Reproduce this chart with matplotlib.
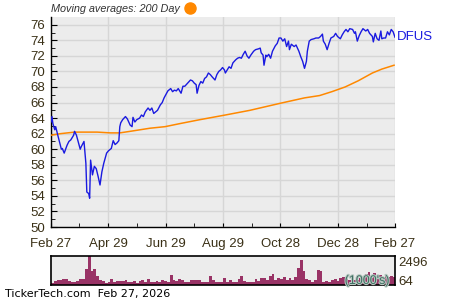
import numpy as np
import pandas as pd
import matplotlib
matplotlib.use("Agg")
from matplotlib import pyplot as plt
from matplotlib import patheffects
from matplotlib.lines import Line2D

# ---- data ----
start = pd.Timestamp("2025-02-27")

price_days = [0, 1, 2, 4, 5, 7, 11, 12, 14, 17, 19, 21, 24, 25, 27, 31, 32, 35, 37, 38,
              40, 41, 42, 44, 46, 48, 50, 52, 54, 56, 59, 61, 64, 66, 68, 70, 72, 73, 74, 76,
              79, 81, 84, 86, 87, 89, 91, 94, 96, 98, 100, 103, 105, 107, 109, 111, 113, 116, 118, 120,
              124, 127, 129, 131, 133, 135, 138, 140, 142, 145, 148, 150, 152, 154, 155, 157, 159, 161, 163, 165,
              167, 169, 171, 174, 176, 178, 180, 182, 184, 185, 187, 189, 191, 193, 196, 198, 200, 202, 204, 206,
              208, 210, 212, 215, 217, 220, 222, 223, 225, 226, 228, 229, 231, 233, 235, 238, 240, 242, 244, 246,
              248, 250, 252, 253, 255, 258, 260, 263, 265, 267, 269, 271, 272, 274, 276, 279, 281, 284, 286, 288,
              289, 291, 293, 295, 297, 300, 302, 304, 307, 309, 311, 313, 315, 317, 320, 322, 323, 325, 327, 329,
              331, 334, 336, 338, 341, 342, 344, 346, 348, 350, 351, 353, 355, 357, 359, 361, 363, 365]
price = [63.5, 64.2, 63.3, 62.5, 62.9, 61.9, 60.0, 60.1, 59.5, 60.5, 61.0, 61.2, 61.8, 62.3, 61.8, 60.0, 60.3, 61.0, 58.2, 54.5,
         54.3, 53.7, 58.6, 56.7, 57.8, 57.5, 56.5, 55.4, 57.1, 58.2, 59.5, 59.8, 60.1, 61.1, 60.6, 60.8, 61.1, 62.9, 63.4, 63.8,
         64.2, 63.9, 63.1, 62.9, 64.1, 63.5, 63.8, 64.0, 64.4, 64.2, 64.8, 65.3, 65.0, 65.3, 64.6, 64.8, 65.0, 65.7, 66.0, 66.6,
         67.5, 67.8, 67.4, 67.6, 67.5, 67.8, 67.2, 68.1, 68.1, 68.5, 68.9, 68.8, 68.5, 68.3, 67.2, 68.2, 68.7, 68.5, 69.1, 69.3,
         69.8, 69.6, 69.3, 68.9, 69.6, 70.0, 70.2, 70.5, 70.2, 69.8, 70.2, 70.6, 70.4, 71.1, 71.5, 71.7, 71.8, 71.7, 72.2, 72.6,
         72.0, 71.7, 72.1, 72.6, 72.8, 72.9, 73.0, 72.4, 72.1, 70.8, 72.1, 71.9, 72.2, 71.7, 72.6, 73.3, 73.6, 74.3, 74.3, 73.9,
         74.2, 73.2, 73.9, 72.8, 73.5, 73.2, 73.4, 72.6, 71.9, 71.3, 70.4, 71.3, 72.6, 73.9, 74.1, 74.2, 74.3, 74.3, 74.5, 74.8,
         73.9, 73.5, 72.8, 73.6, 74.3, 74.5, 74.9, 74.5, 74.2, 74.7, 75.1, 75.4, 75.1, 75.5, 75.4, 74.9, 75.1, 73.9, 74.6, 75.1,
         75.5, 75.2, 75.4, 74.9, 74.5, 73.8, 74.9, 74.2, 74.0, 75.2, 74.2, 74.3, 74.3, 75.1, 74.7, 75.4, 75.1, 74.4]

ma_days = [0, 10, 25, 49, 63, 73, 84, 105, 121, 137, 158, 185, 211, 243, 269, 285, 298, 312, 326, 341, 351, 364]
ma200 = [61.8, 62.0, 62.2, 62.2, 62.1, 62.1, 62.3, 62.7, 62.9, 63.3, 63.8, 64.4, 65.0, 65.9, 66.6, 66.9, 67.4, 68.0, 68.8, 69.8, 70.3, 70.8]

# volume in thousands, one bar per 3 calendar days
vol_step = 3
volume = [250, 450, 600, 600, 650, 650, 450, 380, 380, 400, 650, 650, 1800, 3300, 1600, 1800, 1000, 550, 450, 200,
          350, 650, 300, 500, 400, 420, 550, 350, 380, 450, 250, 400, 550, 350, 700, 300, 320, 450, 350, 600,
          400, 300, 1100, 600, 460, 690, 540, 300, 300, 540, 540, 600, 600, 300, 300, 300, 1000, 540, 380, 380,
          380, 770, 300, 540, 380, 380, 690, 1000, 460, 380, 380, 300, 690, 460, 770, 840, 600, 1075, 1230, 540,
          770, 690, 920, 600, 840, 540, 920, 1900, 2850, 1540, 690, 540, 380, 600, 1690, 1600, 300, 460, 380, 540,
          690, 460, 770, 920, 690, 540, 540, 610, 540, 840, 690, 1230, 1460, 760, 1380, 920, 1150, 690, 1300, 920,
          1075, 900]

tick_dates = ["2025-02-27", "2025-04-29", "2025-06-29", "2025-08-29", "2025-10-28", "2025-12-28", "2026-02-27"]
tick_labels = ["Feb 27", "Apr 29", "Jun 29", "Aug 29", "Oct 28", "Dec 28", "Feb 27"]
minor_dates = ["2025-03-29", "2025-05-29", "2025-07-29", "2025-09-28", "2025-11-28", "2026-01-28"]
ticker = "DFUS"

# ---- style ----
plt.rcParams['font.family'] = ['Liberation Sans', 'DejaVu Sans']
txt_color = "#3a3016"
bg = "#ececec"
grid_c = "#d6d6d6"

price_x = start + pd.to_timedelta(price_days, unit="D")
ma_x = start + pd.to_timedelta(ma_days, unit="D")
vol_x = start + pd.to_timedelta(np.arange(len(volume)) * vol_step, unit="D")
x0, x1 = pd.Timestamp(tick_dates[0]), pd.Timestamp(tick_dates[-1])

fig = plt.figure(figsize=(4.5, 3.0), dpi=100)
ax = fig.add_axes([51 / 450, 1 - 227 / 300, 344 / 450, 210 / 300])
axv = fig.add_axes([51 / 450, 1 - 285 / 300, 344 / 450, 29 / 300])

# main price panel
ax.set_facecolor(bg)
ax.plot(ma_x, ma200, color="#ff8800", lw=1.1, zorder=3)
ax.plot(price_x, price, color="#1a1ae0", lw=1.0, zorder=4)
ax.set_xlim(x0, x1)
ax.set_ylim(50, 77)
ax.set_yticks(np.arange(50, 77, 2))
ax.set_yticks(np.arange(51, 77, 2), minor=True)
ax.set_xticks(pd.to_datetime(tick_dates))
ax.set_xticklabels(tick_labels)
ax.set_xticks(pd.to_datetime(minor_dates), minor=True)
ax.grid(True, which="major", color=grid_c, lw=1.0, zorder=0)
ax.tick_params(which="both", direction="in", colors="black", labelcolor=txt_color, labelsize=9.5)
ax.tick_params(axis="y", which="major", length=4, pad=4)
ax.tick_params(axis="y", which="minor", length=3)
ax.tick_params(axis="x", which="both", length=3, pad=8)
for s in ["top", "right"]:
    ax.spines[s].set_visible(False)
for s in ["left", "bottom"]:
    ax.spines[s].set_linewidth(1.0)

ax.text(1.005, 0.905, ticker, transform=ax.transAxes, color="#1a1ae0", fontsize=9.5,
        va="center", ha="left")

# title with moving-average marker
fig.text(51 / 450, 1 - 9 / 300, "Moving averages: 200 Day", fontsize=7.8, style="italic",
         color="#333333", va="center", ha="left")
fig.add_artist(Line2D([190 / 450], [1 - 8 / 300], marker="o", markersize=8,
                      color="#ff8800", transform=fig.transFigure))

# volume panel
axv.set_facecolor(bg)
axv.bar(vol_x, volume, width=vol_step, align="edge", color="#993366", lw=0)
axv.set_xlim(x0, x1)
axv.set_ylim(0, 3300)
axv.set_xticks([])
axv.set_yticks([])
for s in axv.spines.values():
    s.set_linewidth(1.2)
axv.text(1.01, 0.76, "2496", transform=axv.transAxes, color=txt_color, fontsize=9.5, va="center")
axv.text(1.01, 0.10, "64", transform=axv.transAxes, color=txt_color, fontsize=9.5, va="center")
axv.text(0.985, 0.14, "(1000's)", transform=axv.transAxes, color="#3d6e62", fontsize=9,
         va="center", ha="right",
         path_effects=[patheffects.withStroke(linewidth=1.5, foreground="#b8c8c0")])

fig.text(5 / 450, 1 - 294 / 300, "TickerTech.com  Feb 27, 2026", fontsize=8,
         family="DejaVu Sans", color="black", va="center", ha="left")

fig.savefig("out.png", dpi=100)
